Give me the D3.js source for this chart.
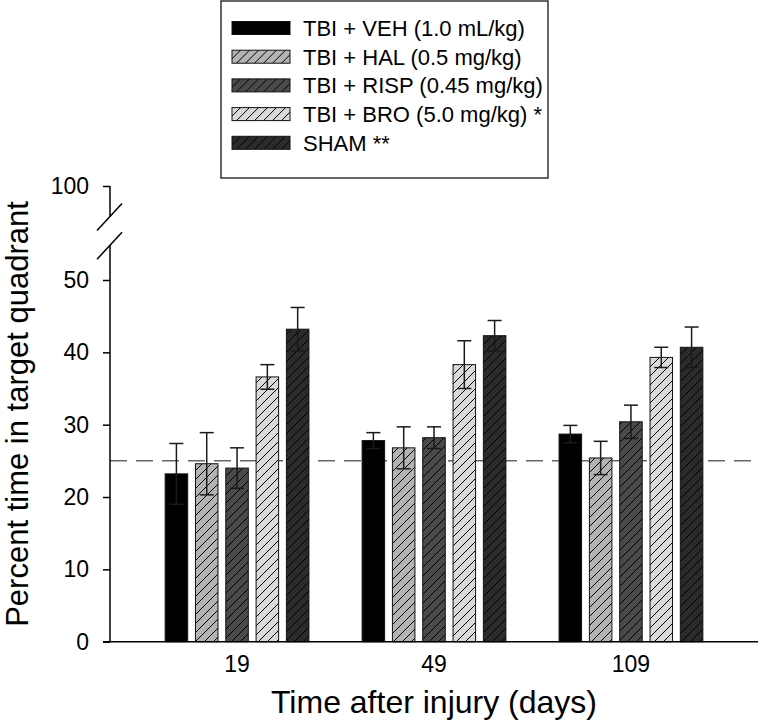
<!DOCTYPE html>
<html lang="en">
<head>
    <meta charset="UTF-8">
    <title>Percent time in target quadrant</title>
    <style>
        body { margin: 0; background: #fff; }
        text { font-family: "Liberation Sans", Arial, sans-serif; fill: #000; }
        .axis path, .axis line { stroke: #000; stroke-width: 1.5px; }
        .axis text { font-size: 23px; font-family: "Liberation Sans", Arial, sans-serif; }
        .bar { stroke: #111; stroke-width: 1px; }
        .err { stroke: #1a1a1a; stroke-width: 1.5px; fill: none; }
    </style>
</head>
<body>
    <script src="https://d3js.org/d3.v7.min.js"></script>
    <script>
        // data
        var days = ["19", "49", "109"];
        var groups = ["veh", "hal", "risp", "bro", "sham"];
        var labels = ["TBI + VEH (1.0 mL/kg)", "TBI + HAL (0.5 mg/kg)", "TBI + RISP (0.45 mg/kg)",
            "TBI + BRO (5.0 mg/kg) *", "SHAM **"];
        var veh = [23.2, 27.8, 28.7], vehErr = [4.2, 1.1, 1.2];
        var hal = [24.6, 26.8, 25.4], halErr = [4.3, 2.9, 2.3];
        var risp = [24.0, 28.2, 30.4], rispErr = [2.8, 1.5, 2.3];
        var bro = [36.6, 38.3, 39.3], broErr = [1.7, 3.3, 1.4];
        var sham = [43.2, 42.3, 40.7], shamErr = [3.0, 2.1, 2.8];
        var yTicks = [0, 10, 20, 30, 40, 50];
        var yTopTicks = [100];
        var chance = 25;

        var means = { veh: veh, hal: hal, risp: risp, bro: bro, sham: sham };
        var errs = { veh: vehErr, hal: halErr, risp: rispErr, bro: broErr, sham: shamErr };
        var fills = { veh: "#000", hal: "#b3b3b3", risp: "#4a4a4a", bro: "#dadada", sham: "#2b2b2b" };
        var hatched = { veh: false, hal: true, risp: true, bro: true, sham: true };

        var rows = [];
        days.forEach(function (d, i) {
            groups.forEach(function (g) {
                rows.push({ day: d, group: g, value: means[g][i], err: errs[g][i] });
            });
        });

        var left = 110, right = 758, bottom = 641.7;

        var svg = d3.select("body").append("svg")
            .attr("width", 760)
            .attr("height", 723);

        var defs = svg.append("defs");
        groups.forEach(function (g) {
            var p = defs.append("pattern")
                .attr("id", "hatch-" + g)
                .attr("patternUnits", "userSpaceOnUse")
                .attr("width", 9)
                .attr("height", 9);
            p.append("rect").attr("width", 9).attr("height", 9).attr("fill", fills[g]);
            p.append("path")
                .attr("d", "M-2.25,2.25 L2.25,-2.25 M0,9 L9,0 M6.75,11.25 L11.25,6.75")
                .attr("stroke", "#000")
                .attr("stroke-width", 1);
        });
        function fillOf(g) {
            return hatched[g] ? "url(#hatch-" + g + ")" : fills[g];
        }

        // scales
        var x0 = d3.scaleBand().domain(days).range([left, right])
            .paddingInner(0.27).paddingOuter(0.28);
        var x1 = d3.scaleBand().domain(groups).range([0, x0.bandwidth()])
            .paddingInner(0.257);
        var y = d3.scaleLinear().domain([0, 50]).range([bottom, 280]);
        var yTop = d3.scaleLinear().domain([95.8, 100]).range([216.5, 186]);

        // chance line
        svg.append("line")
            .attr("x1", left).attr("x2", 760)
            .attr("y1", y(chance)).attr("y2", y(chance))
            .attr("stroke", "#666")
            .attr("stroke-width", 1.5)
            .attr("stroke-dasharray", "17,9");

        // bars
        svg.append("g").selectAll("rect")
            .data(rows)
            .enter().append("rect")
            .attr("class", "bar")
            .attr("x", function (d) { return x0(d.day) + x1(d.group); })
            .attr("y", function (d) { return y(d.value); })
            .attr("width", x1.bandwidth())
            .attr("height", function (d) { return bottom - y(d.value); })
            .attr("fill", function (d) { return fillOf(d.group); });

        // error bars
        var cap = 7;
        var eb = svg.append("g").selectAll("g")
            .data(rows)
            .enter().append("g")
            .attr("class", "err")
            .attr("transform", function (d) {
                return "translate(" + (x0(d.day) + x1(d.group) + x1.bandwidth() / 2) + ",0)";
            });
        eb.append("line")
            .attr("y1", function (d) { return y(d.value - d.err); })
            .attr("y2", function (d) { return y(d.value + d.err); });
        eb.append("line")
            .attr("x1", -cap).attr("x2", cap)
            .attr("y1", function (d) { return y(d.value + d.err); })
            .attr("y2", function (d) { return y(d.value + d.err); });
        eb.append("line")
            .attr("x1", -cap).attr("x2", cap)
            .attr("y1", function (d) { return y(d.value - d.err); })
            .attr("y2", function (d) { return y(d.value - d.err); });

        // lower y axis
        var axL = svg.append("g")
            .attr("class", "axis")
            .attr("transform", "translate(" + left + ",0)")
            .call(d3.axisLeft(y).tickValues(yTicks).tickSize(7).tickSizeOuter(0).tickPadding(14));
        axL.select(".domain").remove();
        axL.append("line").attr("x1", 0).attr("x2", 0)
            .attr("y1", bottom).attr("y2", y(54.8));

        // upper y axis segment
        var axU = svg.append("g")
            .attr("class", "axis")
            .attr("transform", "translate(" + left + ",0)")
            .call(d3.axisLeft(yTop).tickValues(yTopTicks).tickFormat(d3.format("d"))
                .tickSize(7).tickSizeOuter(0).tickPadding(14));
        axU.select(".domain").remove();
        axU.append("line").attr("x1", 0).attr("x2", 0)
            .attr("y1", yTop(100)).attr("y2", yTop(95.8));

        // break marks
        var brk = svg.append("g").attr("stroke", "#000").attr("stroke-width", 1.5);
        [yTop(95.8), y(54.8)].forEach(function (yy) {
            brk.append("line")
                .attr("x1", left - 13).attr("y1", yy + 14)
                .attr("x2", left + 12).attr("y2", yy - 13);
        });

        // x axis
        var axX = svg.append("g")
            .attr("class", "axis")
            .attr("transform", "translate(0," + bottom + ")")
            .call(d3.axisBottom(x0).tickSize(0).tickSizeOuter(0).tickPadding(14));
        axX.select(".domain").attr("d", "M" + (left - 7) + ",0H" + right);

        // axis titles
        svg.append("text")
            .attr("x", x0("49") + x0.bandwidth() / 2)
            .attr("y", 713)
            .attr("text-anchor", "middle")
            .style("font-size", "32px")
            .text("Time after injury (days)");
        svg.append("text")
            .attr("transform", "translate(28,414) rotate(-90)")
            .attr("text-anchor", "middle")
            .style("font-size", "31px")
            .text("Percent time in target quadrant");

        // legend
        var lg = svg.append("g");
        lg.append("rect")
            .attr("x", 221).attr("y", 1)
            .attr("width", 327).attr("height", 177)
            .attr("fill", "#fff")
            .attr("stroke", "#333")
            .attr("stroke-width", 1.5);
        var item = lg.selectAll("g.item")
            .data(groups)
            .enter().append("g")
            .attr("class", "item")
            .attr("transform", function (d, i) { return "translate(0," + (28 + i * 28.7) + ")"; });
        item.append("rect")
            .attr("x", 232).attr("y", -6.5)
            .attr("width", 58).attr("height", 13)
            .attr("fill", function (d) { return fillOf(d); })
            .attr("stroke", "#111")
            .attr("stroke-width", 1);
        item.append("text")
            .attr("x", 303)
            .attr("y", 8)
            .style("font-size", "22px")
            .text(function (d, i) { return labels[i]; });
    </script>
</body>
</html>
